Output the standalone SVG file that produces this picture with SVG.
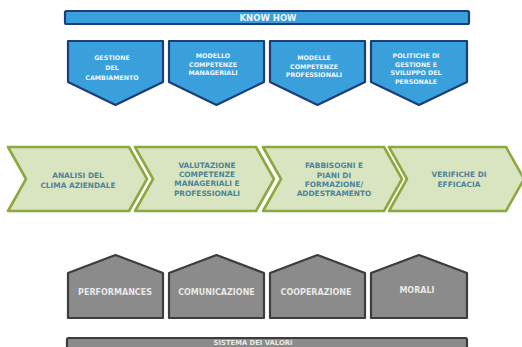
<svg xmlns="http://www.w3.org/2000/svg" width="522" height="347" viewBox="0 0 522 347">
<style>
.blue{fill:#3aa0dc;stroke:#1d3d78;stroke-width:2.2;stroke-linejoin:round}
.green{fill:#d9e5c1;stroke:#8da83e;stroke-width:2.6;stroke-linejoin:round}
.gray{fill:#8b8b8b;stroke:#3d3d3d;stroke-width:2.2;stroke-linejoin:round}
text{font-family:"DejaVu Sans",Verdana,sans-serif;font-weight:bold;text-anchor:middle}
.bt{fill:#eef7ff;font-size:6.3px}
.gt{fill:#4f8499;font-size:7.4px}
.yt{fill:#e8e8e8;font-size:8px}
.ht{fill:#eef7ff;font-size:8.5px}
.st{fill:#e8e8e8;font-size:6.8px}
</style>
<rect width="522" height="347" fill="#ffffff"/>
<g id="connectors"></g>
<g id="knowhow">
<rect class="blue" x="65" y="11" width="404" height="13" rx="1.5"/>
<text class="ht" x="268" y="20.5">KNOW HOW</text>
</g>
<g id="b1">
<path class="blue" d="M68,41 H163 V82 L115.5,105 L68,82 Z"/>
<text class="bt" x="112"><tspan x="112" y="60">GESTIONE</tspan><tspan x="112" y="69.8">DEL</tspan><tspan x="112" y="79.6">CAMBIAMENTO</tspan></text>
</g>
<g id="b2">
<path class="blue" d="M169,41 H264 V82 L216.5,105 L169,82 Z"/>
<text class="bt" x="213"><tspan x="213" y="58">MODELLO</tspan><tspan x="213" y="66.6">COMPETENZE</tspan><tspan x="213" y="75.2">MANAGERIALI</tspan></text>
</g>
<g id="b3">
<path class="blue" d="M270,41 H365 V82 L317.5,105 L270,82 Z"/>
<text class="bt" x="314"><tspan x="314" y="60">MODELLE</tspan><tspan x="314" y="68.6">COMPETENZE</tspan><tspan x="314" y="77.2">PROFESSIONALI</tspan></text>
</g>
<g id="b4">
<path class="blue" d="M371,41 H467 V82 L419,105 L371,82 Z"/>
<text class="bt" x="416"><tspan x="416" y="58">POLITICHE DI</tspan><tspan x="416" y="66.6">GESTIONE E</tspan><tspan x="416" y="75.2">SVILUPPO DEL</tspan><tspan x="416" y="83.8">PERSONALE</tspan></text>
</g>
<g id="g1">
<path class="green" d="M8,147 H129 L147,179 L129,211 H8 L26,179 Z"/>
<text class="gt"><tspan x="78" y="177.6">ANALISI DEL</tspan><tspan x="78" y="187.6">CLIMA AZIENDALE</tspan></text>
</g>
<g id="g2">
<path class="green" d="M135,147 H256 L274,179 L256,211 H135 L153,179 Z"/>
<text class="gt"><tspan x="207" y="167.6">VALUTAZIONE</tspan><tspan x="207" y="177">COMPETENZE</tspan><tspan x="207" y="186.4">MANAGERIALI E</tspan><tspan x="207" y="195.8">PROFESSIONALI</tspan></text>
</g>
<g id="g3">
<path class="green" d="M263,147 H384 L402,179 L384,211 H263 L281,179 Z"/>
<text class="gt"><tspan x="334" y="168.2">FABBISOGNI E</tspan><tspan x="334" y="177.6">PIANI DI</tspan><tspan x="334" y="187">FORMAZIONE/</tspan><tspan x="334" y="196.4">ADDESTRAMENTO</tspan></text>
</g>
<g id="g4">
<path class="green" d="M389,147 H506 L524,179 L506,211 H389 L407,179 Z"/>
<text class="gt"><tspan x="459" y="177">VERIFICHE DI</tspan><tspan x="459" y="187">EFFICACIA</tspan></text>
</g>
<g id="h1">
<path class="gray" d="M68,273 L115.5,255 L163,273 V318 H68 Z"/>
<text class="yt" x="115" y="295.3">PERFORMANCES</text>
</g>
<g id="h2">
<path class="gray" d="M169,273 L216.5,255 L264,273 V318 H169 Z"/>
<text class="yt" x="216.5" y="295.3">COMUNICAZIONE</text>
</g>
<g id="h3">
<path class="gray" d="M270,273 L317.5,255 L365,273 V318 H270 Z"/>
<text class="yt" x="316" y="295.3">COOPERAZIONE</text>
</g>
<g id="h4">
<path class="gray" d="M371,273 L419,255 L467,273 V318 H371 Z"/>
<text class="yt" x="417" y="293">MORALI</text>
</g>
<g id="valori">
<rect class="gray" x="67" y="338" width="400" height="14" rx="1.5"/>
<text class="st" x="253" y="345">SISTEMA DEI VALORI</text>
</g>
</svg>
